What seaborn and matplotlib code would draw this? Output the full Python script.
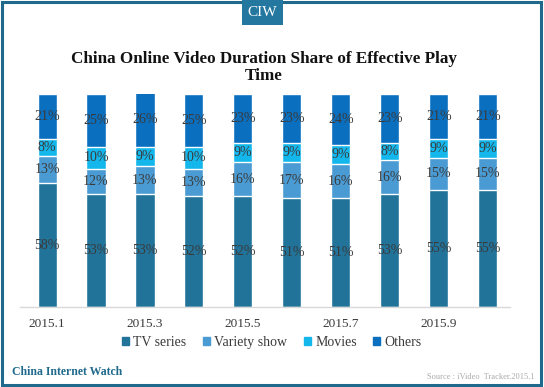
import seaborn as sns
import pandas as pd
import matplotlib.pyplot as plt
from matplotlib.patches import Rectangle

months = ['2015.1', '2015.2', '2015.3', '2015.4', '2015.5',
          '2015.6', '2015.7', '2015.8', '2015.9', '2015.10']
tick_labels = ['2015.1', '', '2015.3', '', '2015.5', '', '2015.7', '', '2015.9', '']
series = ['TV series', 'Variety show', 'Movies', 'Others']
tv_series = [58, 53, 53, 52, 52, 51, 51, 53, 55, 55]
variety_show = [13, 12, 13, 13, 16, 17, 16, 16, 15, 15]
movies = [8, 10, 9, 10, 9, 9, 9, 8, 9, 9]
others = [21, 25, 26, 25, 23, 23, 24, 23, 21, 21]
colors = ['#21739a', '#4a9bd3', '#14b7ec', '#0b6fc0']

sns.set_theme(style='white')
plt.rcParams['font.family'] = ['Liberation Serif', 'DejaVu Serif']

df = pd.DataFrame({'month': months, 'TV series': tv_series,
                   'Variety show': variety_show, 'Movies': movies, 'Others': others})
# cumulative tops, drawn from the top layer down so each covers the next
cum = df[series].cumsum(axis=1)

fig = plt.figure(figsize=(5.44, 3.87), dpi=100)
ax = fig.add_axes([0.037, 0.207, 0.9, 0.55])

for name, col in reversed(list(zip(series, colors))):
    sns.barplot(x=df['month'], y=cum[name], color=col, width=0.39,
                saturation=1, ax=ax, order=months)

# value labels in the middle of each segment
for i in range(len(months)):
    bottom = 0
    for name in series:
        v = df.loc[i, name]
        ax.text(i, bottom + v / 2, f'{v}%', ha='center', va='center',
                fontsize=10, color='#3a3a3a')
        bottom += v

ax.set_ylim(0, 100)
ax.set_xlim(-0.55, 9.45)
ax.set_yticks([])
ax.set_xticks(range(len(months)))
ax.set_xticklabels(tick_labels, fontsize=9.5, color='#3a3a3a')
ax.tick_params(axis='x', length=0, pad=8)
ax.set_xlabel('')
ax.set_ylabel('')
for s in ['top', 'right', 'left']:
    ax.spines[s].set_visible(False)
ax.spines['bottom'].set_color('#d9d9d9')
ax.spines['bottom'].set_linewidth(1)

handles = [Rectangle((0, 0), 1, 1, color=c) for c in colors]
fig.legend(handles, series, loc='center', bbox_to_anchor=(0.5, 0.114), ncol=4,
           frameon=False, fontsize=10, handlelength=0.5, handleheight=0.5,
           handletextpad=0.3, columnspacing=1.2, labelcolor='#3a3a3a')

fig.text(0.485, 0.826, 'China Online Video Duration Share of Effective Play\nTime',
         ha='center', va='center', fontsize=12.3, fontweight='bold',
         color='#111111', linespacing=1.1)

# frame and badge
fig.patches.append(Rectangle((0.004, 0.006), 0.991, 0.988, transform=fig.transFigure,
                             fill=False, edgecolor='#1f6a8c', linewidth=2.2))
fig.patches.append(Rectangle((242 / 544, 1 - 25 / 387), 41 / 544, 25 / 387,
                             transform=fig.transFigure, facecolor='#2478a0',
                             edgecolor='none'))
fig.text(262.5 / 544, 1 - 13 / 387, 'CIW', ha='center', va='center',
         fontsize=11, color='white')

fig.text(12 / 544, 1 - 372 / 387, 'China Internet Watch', ha='left', va='center',
         fontsize=8.5, fontweight='bold', color='#1f6a8c')
fig.text(535 / 544, 1 - 377 / 387, 'Source : iVideo  Tracker.2015.1', ha='right',
         va='center', fontsize=6, color='#aaaaaa')

fig.savefig('out.png', dpi=100)
